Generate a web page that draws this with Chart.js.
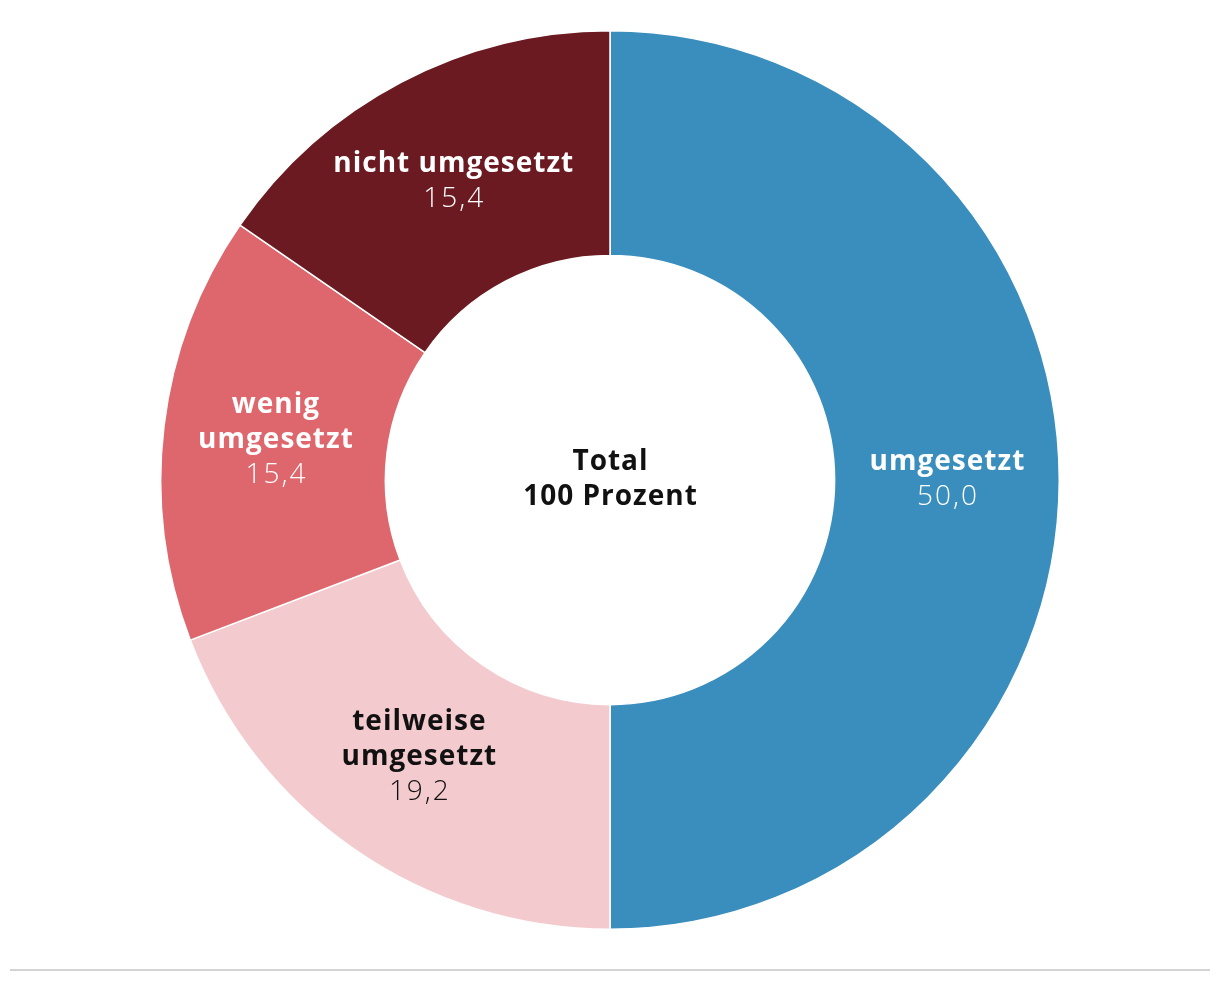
<!DOCTYPE html>
<html>
<head>
<meta charset="utf-8">
<script src="https://cdn.jsdelivr.net/npm/chart.js@4.4.0/dist/chart.umd.min.js"></script>
<style>
  body { margin: 0; background: #fff; }
  #wrap { position: relative; width: 1220px; height: 960px; }
  #rule { position: absolute; left: 10px; top: 969px; width: 1200px; height: 2px; background: #d3d3d3; }
</style>
</head>
<body>
<div id="wrap"><canvas id="donut"></canvas></div>
<div id="rule"></div>
<script>
// data
const categories = ['umgesetzt', 'teilweise umgesetzt', 'wenig umgesetzt', 'nicht umgesetzt'];
const labelLines = [['umgesetzt'], ['teilweise', 'umgesetzt'], ['wenig', 'umgesetzt'], ['nicht umgesetzt']];
const shares = [50.0, 19.2, 15.4, 15.4];
const sliceColors = ['#3a8ebd', '#f3cbcf', '#de666d', '#6a1a20'];
const textColors = ['#ffffff', '#111111', '#ffffff', '#ffffff'];
const centerLines = ['Total', '100 Prozent'];

const fmt = v => v.toFixed(1).replace('.', ',');

// draw centered text, compensating for trailing letter spacing
function centered(ctx, txt, x, y, sp) {
  ctx.letterSpacing = sp + 'px';
  ctx.fillText(txt, x + sp / 2, y);
}

// labels in the middle of each ring segment
const sliceLabels = {
  id: 'sliceLabels',
  afterDatasetsDraw(chart) {
    const ctx = chart.ctx;
    const meta = chart.getDatasetMeta(0);
    ctx.save();
    ctx.textAlign = 'center';
    ctx.textBaseline = 'middle';
    meta.data.forEach((arc, i) => {
      const p = arc.tooltipPosition();
      const lines = labelLines[i];
      const lh = 35;
      const total = lines.length + 1;
      let y = p.y - (total - 1) * lh / 2;
      ctx.fillStyle = textColors[i];
      ctx.font = 'bold 28px "Open Sans"';
      lines.forEach(t => { centered(ctx, t, p.x, y, 1); y += lh; });
      ctx.font = '300 28px "Open Sans"';
      centered(ctx, fmt(shares[i]), p.x, y, 2);
    });
    // center text
    const c = meta.data[0];
    ctx.fillStyle = '#111111';
    ctx.font = 'bold 28px "Open Sans"';
    centered(ctx, centerLines[0], c.x, c.y - 18, 1);
    centered(ctx, centerLines[1], c.x, c.y + 17, 1);
    ctx.restore();
  }
};

new Chart(document.getElementById('donut'), {
  type: 'doughnut',
  data: {
    labels: categories,
    datasets: [{
      data: shares,
      backgroundColor: sliceColors,
      borderColor: '#ffffff',
      borderWidth: 1.5,
      hoverOffset: 0
    }]
  },
  options: {
    responsive: true,
    maintainAspectRatio: false,
    animation: false,
    cutout: '50%',
    layout: { padding: { top: 30, bottom: 30 } },
    plugins: {
      legend: { display: false },
      tooltip: { enabled: false }
    }
  },
  plugins: [sliceLabels]
});
</script>
</body>
</html>
